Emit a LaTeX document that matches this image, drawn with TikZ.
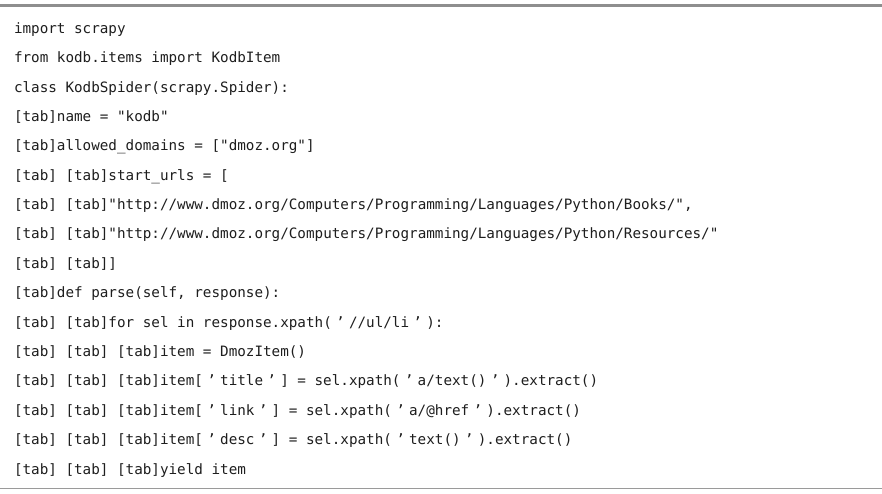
\documentclass[tikz,border=0pt]{standalone}
\usepackage{fontspec}
\newfontfamily\codefont{DejaVu Sans Mono}
\definecolor{rulegray}{HTML}{8E8E8E}
\definecolor{rulegraylight}{HTML}{9A9A9A}
\definecolor{codeink}{HTML}{1E1E1E}
\newcommand{\fwq}{\makebox[17.18pt][c]{’}}
\tikzset{
  codeline/.style={anchor=base west, inner sep=0pt, outer sep=0pt, text=codeink,
    font=\codefont\fontsize{14.27pt}{29.38pt}\selectfont},
}
\begin{document}
\begin{tikzpicture}[x=1pt,y=1pt]
\useasboundingbox (0,0) rectangle (882,-494);
\fill[white] (0,0) rectangle (882,-494);
\draw[rulegray, line width=3.5pt] (0,-5.75) -- (882,-5.75);
\draw[rulegraylight, line width=1.5pt] (0,-488.5) -- (882,-488.5);
\node[codeline] (l1)  at (14,-33.3)  {import scrapy};
\node[codeline] (l2)  at (14,-62.68) {from kodb.items import KodbItem};
\node[codeline] (l3)  at (14,-92.06) {class KodbSpider(scrapy.Spider):};
\node[codeline] (l4)  at (14,-121.44) {[tab]name = "kodb"};
\node[codeline] (l5)  at (14,-150.82) {[tab]allowed\_domains = ["dmoz.org"]};
\node[codeline] (l6)  at (14,-180.2) {[tab] [tab]start\_urls = [};
\node[codeline] (l7)  at (14,-209.58) {[tab] [tab]"http://www.dmoz.org/Computers/Programming/Languages/Python/Books/",};
\node[codeline] (l8)  at (14,-238.96) {[tab] [tab]"http://www.dmoz.org/Computers/Programming/Languages/Python/Resources/"};
\node[codeline] (l9)  at (14,-268.34) {[tab] [tab]]};
\node[codeline] (l10) at (14,-297.72) {[tab]def parse(self, response):};
\node[codeline] (l11) at (14,-327.1) {[tab] [tab]for sel in response.xpath(\fwq//ul/li\fwq):};
\node[codeline] (l12) at (14,-356.48) {[tab] [tab] [tab]item = DmozItem()};
\node[codeline] (l13) at (14,-385.86) {[tab] [tab] [tab]item[\fwq title\fwq] = sel.xpath(\fwq a/text()\fwq).extract()};
\node[codeline] (l14) at (14,-415.24) {[tab] [tab] [tab]item[\fwq link\fwq] = sel.xpath(\fwq a/@href\fwq).extract()};
\node[codeline] (l15) at (14,-444.62) {[tab] [tab] [tab]item[\fwq desc\fwq] = sel.xpath(\fwq text()\fwq).extract()};
\node[codeline] (l16) at (14,-474.0) {[tab] [tab] [tab]yield item};
\end{tikzpicture}
\end{document}
